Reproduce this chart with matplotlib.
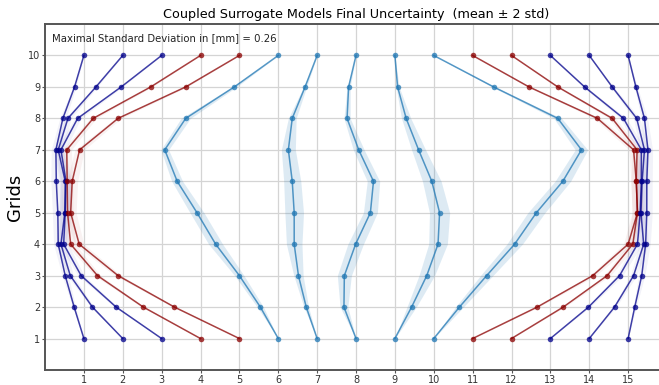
import numpy as np
import matplotlib
matplotlib.use("Agg")
import matplotlib.pyplot as plt

# grid index (vertical axis) shared by all surrogate models
grids = [1, 2, 3, 4, 5, 6, 7, 8, 9, 10]

# mean positions per model, listed from grid 1 up to grid 10
m01 = [1.00, 0.75, 0.52, 0.34, 0.33, 0.29, 0.28, 0.46, 0.76, 1.00]
m02 = [2.00, 1.22, 0.65, 0.41, 0.51, 0.52, 0.34, 0.59, 1.31, 2.00]
m03 = [3.00, 1.83, 0.93, 0.48, 0.52, 0.54, 0.41, 0.84, 1.96, 3.00]
m04 = [4.00, 2.53, 1.35, 0.66, 0.58, 0.57, 0.56, 1.24, 2.72, 4.00]
m05 = [5.00, 3.33, 1.88, 0.88, 0.66, 0.70, 0.89, 1.88, 3.62, 5.00]
m06 = [6.00, 5.54, 5.00, 4.39, 3.91, 3.40, 3.08, 3.62, 4.87, 6.00]
m07 = [7.00, 6.72, 6.52, 6.41, 6.41, 6.36, 6.26, 6.36, 6.69, 7.00]
m08 = [8.00, 7.69, 7.70, 7.99, 8.37, 8.45, 8.07, 7.77, 7.81, 8.00]
m09 = [9.00, 9.43, 9.82, 10.11, 10.15, 9.95, 9.61, 9.29, 9.07, 9.00]
m10 = [10.00, 10.66, 11.36, 12.08, 12.64, 13.32, 13.80, 13.19, 11.54, 10.00]
m11 = [11.00, 12.66, 14.09, 15.00, 15.24, 15.21, 15.14, 14.21, 12.45, 11.00]
m12 = [12.00, 13.33, 14.46, 15.12, 15.24, 15.21, 15.23, 14.59, 13.19, 12.00]
m13 = [13.00, 13.98, 14.78, 15.24, 15.31, 15.34, 15.34, 14.88, 13.88, 13.00]
m14 = [14.00, 14.65, 15.14, 15.40, 15.33, 15.36, 15.42, 15.22, 14.59, 14.00]
m15 = [15.00, 15.17, 15.35, 15.45, 15.48, 15.48, 15.51, 15.42, 15.20, 15.00]

# standard deviations per model
s_edge = [0.00, 0.02, 0.04, 0.06, 0.07, 0.07, 0.06, 0.04, 0.02, 0.00]
s06 = [0.00, 0.04, 0.06, 0.09, 0.09, 0.07, 0.05, 0.06, 0.03, 0.00]
s07 = [0.00, 0.03, 0.06, 0.10, 0.12, 0.11, 0.09, 0.05, 0.02, 0.00]
s08 = [0.00, 0.05, 0.09, 0.10, 0.09, 0.08, 0.07, 0.04, 0.02, 0.00]
s09 = [0.00, 0.06, 0.10, 0.12, 0.13, 0.12, 0.09, 0.06, 0.02, 0.00]
s10 = [0.00, 0.05, 0.08, 0.10, 0.11, 0.10, 0.08, 0.05, 0.02, 0.00]

max_std = 0.26

x_ticks = list(range(1, 16))
y_ticks = list(range(1, 11))

navy = "#00008B"
dark_red = "#8B0000"
mid_blue = "#1f77b4"

models = [
    (m01, s_edge, navy), (m02, s_edge, navy), (m03, s_edge, navy),
    (m04, s_edge, dark_red), (m05, s_edge, dark_red),
    (m06, s06, mid_blue), (m07, s07, mid_blue), (m08, s08, mid_blue),
    (m09, s09, mid_blue), (m10, s10, mid_blue),
    (m11, s_edge, dark_red), (m12, s_edge, dark_red),
    (m13, s_edge, navy), (m14, s_edge, navy), (m15, s_edge, navy),
]

W, H = 659, 385
fig = plt.figure(figsize=(W / 100, H / 100), dpi=100)
ax_left, ax_right, ax_top, ax_bot = 45, 667, 24, 370
ax = fig.add_axes([ax_left / W, (H - ax_bot) / H,
                   (ax_right - ax_left) / W, (ax_bot - ax_top) / H])

y = np.array(grids)
for mean, std, col in models:
    mean = np.array(mean)
    std = np.array(std)
    band_alpha = 0.15 if col == mid_blue else 0.05
    ax.fill_betweenx(y, mean - 2 * std, mean + 2 * std, color=col,
                     alpha=band_alpha, linewidth=0)
    ax.plot(mean, y, "-o", color=col, alpha=0.75, linewidth=1.1,
            markersize=4, markeredgewidth=0)

ax.set_xlim(0, 16)
ax.set_ylim(0, 11)
ax.set_xticks(x_ticks)
ax.set_yticks(y_ticks)
ax.tick_params(labelsize=7, length=2, pad=1.5, color="#555555",
               labelcolor="#333333")
ax.grid(True, color="#d4d4d4", linewidth=0.9)
ax.set_axisbelow(True)
for sp in ax.spines.values():
    sp.set_color("#555555")
    sp.set_linewidth(1.4)

ax.set_title("Coupled Surrogate Models Final Uncertainty  (mean \u00b1 2 std)",
             fontsize=9.2, pad=4)
ax.set_ylabel("Grids", fontsize=13, labelpad=3)
ax.text(0.012, 0.975, f"Maximal Standard Deviation in [mm] = {max_std}",
        transform=ax.transAxes, fontsize=7.3, va="top", ha="left",
        color="#222222")

fig.savefig("out.png", dpi=100)
